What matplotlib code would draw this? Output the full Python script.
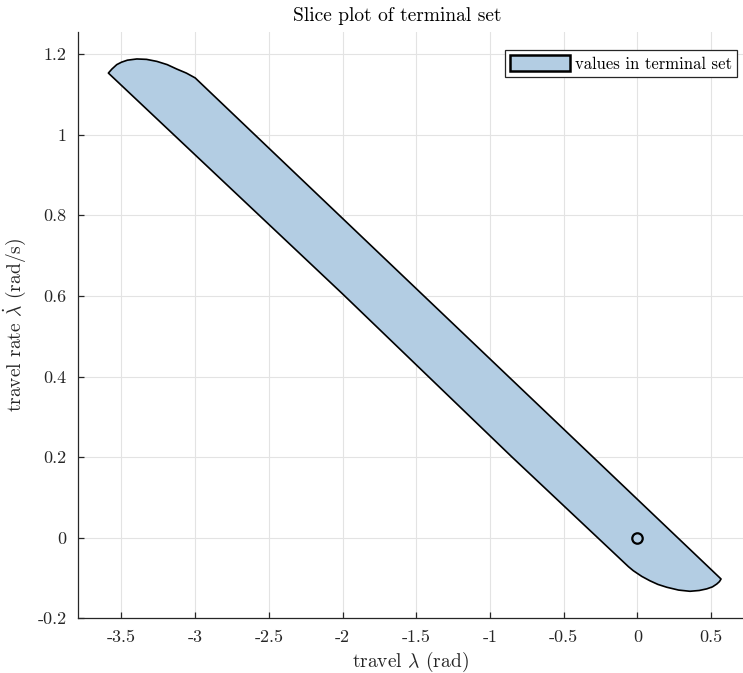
import matplotlib
matplotlib.use("Agg")
import matplotlib.pyplot as plt
from matplotlib.ticker import FuncFormatter

plt.rcParams['font.family'] = 'cmr10'
plt.rcParams['mathtext.fontset'] = 'cm'
plt.rcParams['axes.unicode_minus'] = False

# slice of the terminal set (travel, travel rate), traced around the boundary
set_travel = [-3.589, -3.565, -3.532, -3.50, -3.46, -3.396, -3.33, -3.26, -3.19,
              -3.125, -3.06, -3.0, -1.85, -0.8,
              0.568, 0.557, 0.539, 0.51, 0.471, 0.42, 0.357, 0.28, 0.2, 0.14,
              0.086, 0.03, -0.027, -0.06, -0.85, -2.0]
set_rate = [1.153, 1.163, 1.174, 1.180, 1.185, 1.188, 1.187, 1.182, 1.174,
            1.163, 1.153, 1.141, 0.740, 0.374,
            -0.1025, -0.109, -0.115, -0.122, -0.127, -0.131, -0.133, -0.130, -0.123, -0.116,
            -0.107, -0.096, -0.082, -0.072, 0.200, 0.605]

# equilibrium point
eq_travel = [0.0]
eq_rate = [0.0]

x_ticks = [-3.5, -3, -2.5, -2, -1.5, -1, -0.5, 0, 0.5]
y_ticks = [-0.2, 0, 0.2, 0.4, 0.6, 0.8, 1, 1.2]

fig = plt.figure(figsize=(7.43, 6.73), dpi=100)
ax = fig.add_axes([0.1046, 0.0813, 0.8954, 0.8712])

ax.fill(set_travel, set_rate, facecolor='#b3cde3', edgecolor='black',
        linewidth=1.2, joinstyle='round', label='values in terminal set', zorder=2)
ax.plot(eq_travel, eq_rate, 'o', mfc='none', mec='black', ms=7.5, mew=1.6, zorder=3)

ax.set_xlim(-3.797, 0.717)
ax.set_ylim(-0.2, 1.255)
ax.set_xticks(x_ticks)
ax.set_yticks(y_ticks)
fmt = FuncFormatter(lambda v, p: '%g' % round(v, 3))
ax.xaxis.set_major_formatter(fmt)
ax.yaxis.set_major_formatter(fmt)

ax.grid(True, color='#e3e3e3', linewidth=0.8, zorder=0)
ax.set_axisbelow(True)
for s in ['top', 'right']:
    ax.spines[s].set_visible(False)
for s in ['left', 'bottom']:
    ax.spines[s].set_color('#262626')
    ax.spines[s].set_linewidth(0.9)
ax.tick_params(direction='in', length=4, width=0.9, color='#262626',
               labelcolor='#262626', labelsize=13, pad=8)

ax.set_xlabel(r'travel $\lambda$ (rad)', fontsize=14, color='#262626', labelpad=4)
ax.set_ylabel(r'travel rate $\dot{\lambda}$ (rad/s)', fontsize=14, color='#262626', labelpad=7)
ax.set_title('Slice plot of terminal set', fontsize=14, x=0.481, pad=8)

leg = ax.legend(loc='upper right', bbox_to_anchor=(0.991, 0.969), borderaxespad=0,
                fontsize=12, fancybox=False, framealpha=1, edgecolor='#262626',
                handlelength=3.6, handleheight=1.1, handletextpad=0.3,
                borderpad=0.3)
leg.get_frame().set_linewidth(0.9)
leg.legend_handles[0].set_linewidth(1.8)

fig.savefig('out.png', dpi=100)
